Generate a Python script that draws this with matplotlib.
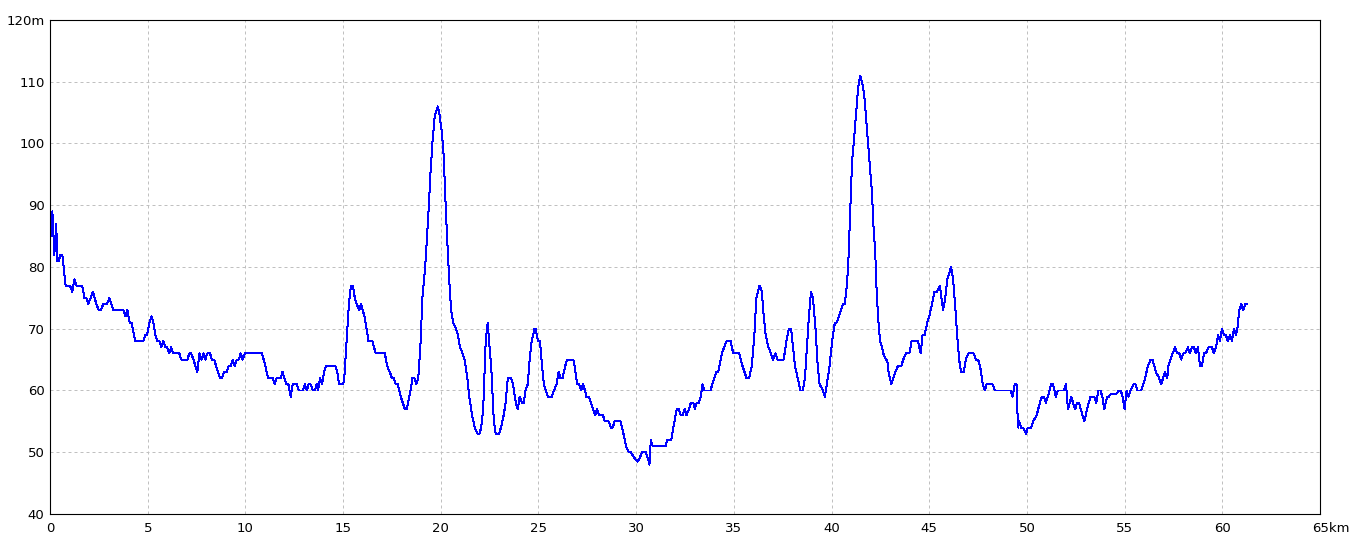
import matplotlib
matplotlib.use("Agg")
import matplotlib.pyplot as plt
import matplotlib.transforms as mtransforms

# elevation profile (km, m)
km = [0.0, 0.05, 0.12, 0.22, 0.32, 0.37, 0.45, 0.53, 0.63, 0.7, 0.8, 1.02, 1.14, 1.25, 1.35,
      1.65, 1.76, 1.86, 1.96, 2.2, 2.37, 2.5, 2.6, 2.73, 2.92, 3.04, 3.24, 3.75, 3.86, 3.96,
      4.08, 4.18, 4.23, 4.37, 4.78, 4.88, 4.97, 5.09, 5.19, 5.29, 5.39, 5.5, 5.6, 5.7, 5.8,
      5.9, 6.0, 6.1, 6.2, 6.3, 6.62, 6.72, 7.03, 7.13, 7.23, 7.34, 7.54, 7.65, 7.75, 7.85,
      7.95, 8.05, 8.19, 8.29, 8.4, 8.5, 8.7, 8.8, 8.9, 9.04, 9.15, 9.25, 9.35, 9.45, 9.56,
      9.66, 9.76, 9.86, 9.97, 10.85, 11.02, 11.16, 11.4, 11.5, 11.6, 11.8, 11.9, 12.0, 12.1,
      12.2, 12.32, 12.42, 12.63, 12.73, 12.94, 13.04, 13.14, 13.24, 13.34, 13.45, 13.55,
      13.65, 13.72, 13.82, 13.92, 14.03, 14.13, 14.6, 14.7, 14.8, 15.0, 15.06, 15.14, 15.22,
      15.3, 15.4, 15.5, 15.6, 15.7, 15.82, 15.92, 16.0, 16.1, 16.2, 16.3, 16.5, 16.67,
      17.14, 17.25, 17.39, 17.5, 17.6, 17.7, 17.8, 17.95, 18.16, 18.26, 18.45, 18.55, 18.65,
      18.75, 18.85, 18.97, 19.06, 19.2, 19.3, 19.39, 19.47, 19.57, 19.68, 19.74, 19.85,
      19.92, 20.05, 20.15, 20.25, 20.32, 20.43, 20.53, 20.63, 20.78, 20.88, 20.98, 21.12,
      21.22, 21.36, 21.46, 21.6, 21.74, 21.88, 21.98, 22.07, 22.17, 22.24, 22.3, 22.4, 22.47,
      22.58, 22.64, 22.7, 22.76, 22.81, 22.98, 23.08, 23.22, 23.32, 23.43, 23.6, 23.7, 23.84,
      23.94, 24.04, 24.15, 24.24, 24.34, 24.45, 24.55, 24.65, 24.8, 24.86, 24.97, 25.08,
      25.18, 25.28, 25.38, 25.48, 25.69, 25.79, 25.93, 26.03, 26.13, 26.23, 26.37, 26.47,
      26.78, 26.85, 26.98, 27.08, 27.18, 27.28, 27.38, 27.45, 27.58, 27.79, 27.9, 28.0, 28.1,
      28.3, 28.4, 28.6, 28.7, 28.8, 28.9, 29.2, 29.35, 29.48, 29.62, 29.72, 29.93, 30.07,
      30.17, 30.3, 30.5, 30.6, 30.68, 30.75, 30.85, 31.5, 31.6, 31.8, 31.9, 32.08, 32.18,
      32.28, 32.38, 32.48, 32.58, 32.7, 32.8, 32.93, 33.0, 33.1, 33.2, 33.3, 33.4, 33.5,
      33.8, 33.9, 34.1, 34.2, 34.39, 34.5, 34.63, 34.83, 34.97, 35.27, 35.44, 35.65, 35.78,
      35.92, 36.05, 36.15, 36.32, 36.43, 36.53, 36.63, 36.77, 36.9, 37.0, 37.14, 37.24,
      37.55, 37.69, 37.82, 37.93, 38.03, 38.13, 38.27, 38.4, 38.53, 38.64, 38.74, 38.84,
      38.95, 39.05, 39.18, 39.29, 39.39, 39.56, 39.66, 39.76, 39.9, 40.03, 40.17, 40.27,
      40.37, 40.48, 40.58, 40.68, 40.78, 40.85, 40.92, 40.99, 41.05, 41.16, 41.26, 41.36,
      41.46, 41.56, 41.67, 41.77, 41.87, 41.97, 42.07, 42.14, 42.24, 42.31, 42.38, 42.48,
      42.58, 42.65, 42.78, 42.85, 42.92, 43.06, 43.16, 43.27, 43.4, 43.57, 43.67, 43.8,
      43.98, 44.1, 44.42, 44.56, 44.66, 44.76, 44.9, 45.0, 45.14, 45.27, 45.4, 45.54, 45.71,
      45.82, 45.92, 46.12, 46.22, 46.32, 46.43, 46.53, 46.63, 46.77, 46.87, 47.0, 47.28,
      47.38, 47.5, 47.6, 47.74, 47.84, 47.94, 48.25, 48.35, 49.17, 49.27, 49.37, 49.47,
      49.54, 49.6, 49.7, 49.8, 49.95, 50.05, 50.22, 50.32, 50.5, 50.66, 50.77, 50.87, 50.97,
      51.07, 51.24, 51.34, 51.48, 51.58, 51.89, 52.0, 52.1, 52.27, 52.36, 52.47, 52.57,
      52.67, 52.84, 52.94, 53.08, 53.25, 53.45, 53.55, 53.66, 53.76, 53.86, 53.96, 54.1,
      54.2, 54.3, 54.6, 54.7, 54.8, 54.9, 55.0, 55.1, 55.2, 55.3, 55.45, 55.55, 55.65,
      55.85, 55.95, 56.05, 56.19, 56.33, 56.43, 56.6, 56.77, 56.87, 56.97, 57.07, 57.18,
      57.24, 57.35, 57.45, 57.59, 57.69, 57.8, 57.9, 58.0, 58.1, 58.24, 58.34, 58.45, 58.55,
      58.65, 58.75, 58.86, 58.96, 59.06, 59.16, 59.3, 59.47, 59.57, 59.68, 59.78, 59.88,
      59.98, 60.08, 60.18, 60.28, 60.39, 60.49, 60.6, 60.7, 60.77, 60.87, 60.97, 61.07,
      61.17, 61.24]
elev = [85, 85, 89, 82, 87, 81, 81, 82, 82, 80, 77, 77, 76, 78, 77,
        77, 75, 75, 74, 76, 74, 73, 73, 74, 74, 75, 73, 73, 72, 73,
        71, 71, 70, 68, 68, 69, 69, 71, 72, 71, 69, 68, 68, 67, 68,
        67, 67, 66, 67, 66, 66, 65, 65, 66, 66, 65, 63, 66, 65, 66,
        65, 66, 66, 65, 65, 64, 62, 62, 63, 63, 64, 64, 65, 64, 65,
        65, 66, 65, 66, 66, 64, 62, 62, 61, 62, 62, 63, 62, 61,
        61, 59, 61, 61, 60, 60, 61, 60, 61, 61, 60, 60,
        61, 60, 62, 61, 63, 64, 64, 63, 61, 61, 62, 66, 70,
        74, 77, 77, 75, 74, 73, 74, 73, 72, 70, 68, 68, 66,
        66, 64, 63, 62, 62, 61, 61, 59, 57, 57, 60, 62, 62,
        61, 62, 68, 75, 80, 85, 90, 95, 100, 104, 105, 106,
        105, 102, 98, 90, 85, 78, 73, 71, 70, 69, 67, 66,
        65, 62, 59, 56, 54, 53, 53, 54, 57, 63, 68, 71, 68,
        64, 60, 56, 54, 53, 53, 54, 56, 58, 62, 62, 61, 58,
        57, 59, 58, 58, 60, 61, 65, 68, 70, 70, 68, 68,
        64, 61, 60, 59, 59, 60, 61, 63, 62, 62, 64, 65,
        65, 64, 61, 61, 60, 61, 60, 59, 59, 57, 56, 57, 56,
        56, 55, 55, 54, 54, 55, 55, 53, 51, 50, 50, 49, 48.5,
        49, 50, 50, 49, 48, 52, 51, 51, 52, 52, 54, 57, 57,
        56, 56, 57, 56, 57, 58, 58, 57, 58, 58, 59, 61, 60,
        60, 61, 63, 63, 66, 67, 68, 68, 66, 66, 64, 62, 62,
        64, 69, 75, 77, 76, 72, 69, 67, 66, 65, 66, 65,
        65, 68, 70, 70, 67, 64, 62, 60, 60, 62, 67, 72,
        76, 75, 70, 64, 61, 60, 59, 61, 64, 68, 71, 71,
        72, 73, 74, 74, 77, 80, 86, 92, 97, 101, 105, 109,
        111, 110, 108, 104, 100, 96, 92, 87, 82, 76, 72, 68,
        67, 66, 65, 65, 63, 61, 62, 63, 64, 64, 65, 66,
        66, 68, 68, 66, 69, 69, 71, 72, 74, 76, 76, 77, 73,
        75, 78, 80, 78, 74, 69, 65, 63, 63, 65, 66, 66,
        65, 65, 64, 61, 60, 61, 61, 60, 60, 59, 61, 61,
        54, 55, 54, 54, 53, 54, 54, 55, 56, 58, 59, 59, 58,
        59, 61, 61, 59, 60, 60, 61, 57, 59, 58, 57, 58,
        58, 56, 55, 57, 59, 59, 58, 60, 60, 59, 57, 59,
        59, 59.5, 59.5, 60, 60, 59, 57, 60, 59, 60, 61, 61, 60,
        60, 61, 62, 64, 65, 65, 63, 62, 61, 62, 63, 62,
        64, 65, 66, 67, 66, 66, 65, 66, 66, 67, 66, 67, 67,
        66, 67, 64, 64, 66, 66, 67, 67, 66, 67, 69, 68,
        70, 69, 69, 68, 69, 68, 70, 69, 70, 73, 74, 73,
        74, 74]

x_ticks = [0, 5, 10, 15, 20, 25, 30, 35, 40, 45, 50, 55, 60, 65]
x_labels = ["0", "5", "10", "15", "20", "25", "30", "35", "40", "45", "50", "55", "60", "65km"]
y_ticks = [40, 50, 60, 70, 80, 90, 100, 110, 120]
y_labels = ["40", "50", "60", "70", "80", "90", "100", "110", "120m"]

fig = plt.figure(figsize=(13.6, 5.44), dpi=100)
ax = fig.add_axes([50 / 1360, 30 / 544, 1270 / 1360, 494 / 544])

ax.plot(km, elev, color="#0000ff", linewidth=0.72, antialiased=False)

ax.set_xlim(0, 65)
ax.set_ylim(40, 120)
ax.set_xticks(x_ticks)
ax.set_xticklabels(x_labels)
ax.set_yticks(y_ticks)
ax.set_yticklabels(y_labels)
ax.tick_params(length=0, labelsize=9.5, colors="black")
ax.tick_params(axis="x", pad=6)
ax.tick_params(axis="y", pad=4)

# the "km" unit hangs to the right of the 65 label
last = ax.get_xticklabels()[-1]
last.set_transform(last.get_transform() + mtransforms.ScaledTranslation(11 / 100, 0, fig.dpi_scale_trans))

ax.grid(True, color="#c0c0c0", linestyle=(0, (3, 3)), linewidth=0.72)
for sp in ax.spines.values():
    sp.set_linewidth(0.8)
    sp.set_color("black")

fig.savefig("out.png", dpi=100)
